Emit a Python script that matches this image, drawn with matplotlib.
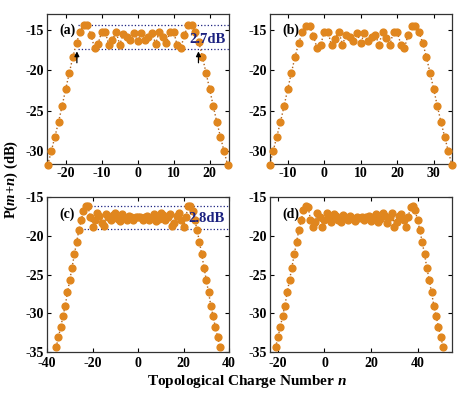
import numpy as np
import matplotlib as mpl
mpl.use('Agg')
import matplotlib.pyplot as plt

plt.rcParams['font.family'] = 'Liberation Serif'
plt.rcParams['font.weight'] = 'bold'
plt.rcParams['axes.unicode_minus'] = False
plt.rcParams['mathtext.fontset'] = 'custom'
plt.rcParams['mathtext.rm'] = 'Liberation Serif:bold'
plt.rcParams['mathtext.it'] = 'Liberation Serif:bold:italic'

# --- dados ---
n_a = list(range(-25, 26))
p_a = [-31.7, -30.0, -28.2, -26.4, -24.4, -22.3, -20.3, -18.3, -16.6, -15.2,
       -14.4, -14.4, -15.6, -17.2, -16.7, -15.2, -15.2, -16.9, -16.2, -15.2,
       -16.8, -15.5, -15.8, -16.2, -15.4, -16.4, -15.4, -16.2, -15.8, -15.4,
       -16.7, -15.2, -15.8, -16.6, -15.2, -15.2, -16.9, -17.2, -15.6, -14.4,
       -14.4, -15.2, -16.5, -18.3, -20.3, -22.3, -24.4, -26.4, -28.2, -30.0,
       -31.7]

n_b = list(range(-15, 36))
p_b = [-31.7, -30.0, -28.2, -26.4, -24.4, -22.3, -20.3, -18.3, -16.6, -15.3,
       -14.5, -14.5, -15.7, -17.2, -16.9, -15.2, -15.2, -16.9, -16.1, -15.2,
       -16.8, -15.6, -15.8, -16.4, -15.4, -16.6, -15.4, -16.4, -15.8, -15.6,
       -16.8, -15.2, -16.0, -16.8, -15.2, -15.2, -16.8, -17.2, -15.6, -14.5,
       -14.5, -15.3, -16.6, -18.3, -20.3, -22.3, -24.4, -26.4, -28.2, -30.0,
       -31.7]

n_c = list(range(-36, 37))
p_c = [-34.4, -33.1, -31.8, -30.4, -29.0, -27.3, -25.7, -24.1, -22.4, -20.8,
       -19.3, -18.0, -16.8, -16.1, -16.2, -17.6, -18.8, -18.0, -17.0, -17.4,
       -18.3, -18.7, -17.2, -17.6, -18.0, -17.3, -17.0, -17.8, -18.1, -17.2,
       -17.6, -18.0, -17.4, -17.6, -17.9, -17.5, -17.6, -17.5, -17.9, -17.6,
       -17.4, -18.0, -17.6, -17.2, -18.1, -17.8, -17.0, -17.3, -18.0, -17.6,
       -17.2, -18.7, -18.3, -17.4, -17.0, -18.0, -18.8, -17.6, -16.2, -16.1,
       -16.8, -18.0, -19.3, -20.8, -22.4, -24.1, -25.7, -27.3, -29.0, -30.4,
       -31.8, -33.1, -34.4]

n_d = list(range(-21, 52))
p_d = [-34.4, -33.1, -31.8, -30.4, -29.0, -27.3, -25.7, -24.1, -22.4, -20.8,
       -19.3, -18.0, -16.7, -16.2, -16.3, -17.9, -18.9, -18.2, -17.0, -17.5,
       -18.8, -17.9, -17.1, -17.8, -18.2, -17.2, -17.4, -17.9, -18.2, -17.3,
       -17.6, -18.0, -17.4, -17.7, -18.1, -17.5, -17.7, -17.6, -18.0, -17.5,
       -17.4, -18.1, -17.6, -17.2, -18.2, -17.8, -17.1, -17.4, -18.3, -17.6,
       -17.0, -18.8, -18.2, -17.4, -17.2, -17.9, -18.8, -17.5, -16.3, -16.2,
       -16.7, -18.0, -19.3, -20.8, -22.4, -24.1, -25.7, -27.3, -29.0, -30.4,
       -31.8, -33.1, -34.4]

# --- estilo ---
cor_ponto = '#e0861e'
cor_linha = '#b0621a'
cor_azul = '#1c2280'

fig = plt.figure(figsize=(4.74, 3.98), dpi=100)

posicoes = [
    [0.0992, 0.588, 0.384, 0.377],
    [0.5686, 0.588, 0.384, 0.377],
    [0.0992, 0.1156, 0.384, 0.389],
    [0.5686, 0.1156, 0.384, 0.389],
]
dados = [(n_a, p_a), (n_b, p_b), (n_c, p_c), (n_d, p_d)]
xlims = [(-25.2, 25.4), (-15, 34.9), (-40, 40), (-23.6, 54.6)]
ylims = [(-31.6, -13), (-31.6, -13), (-35, -15), (-35, -15)]
xticks = [[-20, -10, 0, 10, 20], [-10, 0, 10, 20, 30],
          [-40, -20, 0, 20, 40], [-20, 0, 20, 40]]
yticks = [[-30, -25, -20, -15], [-30, -25, -20, -15],
          [-35, -30, -25, -20, -15], [-35, -30, -25, -20, -15]]
rotulos = ['(a)', '(b)', '(c)', '(d)']

axes = []
for i in range(4):
    ax = fig.add_axes(posicoes[i])
    n, p = dados[i]
    ax.plot(n, p, linestyle=':', color=cor_linha, lw=1.0, zorder=2)
    ax.plot(n, p, 'o', color=cor_ponto, ms=4.9, mec=cor_ponto, zorder=3,
            clip_on=False)
    ax.set_xlim(*xlims[i])
    ax.set_ylim(*ylims[i])
    ax.set_xticks(xticks[i])
    ax.set_yticks(yticks[i])
    ax.tick_params(direction='in', top=True, right=True, length=3,
                   width=0.8, labelsize=10, pad=2)
    if i >= 2:
        ax.tick_params(axis='x', pad=3.5)
    for s in ax.spines.values():
        s.set_linewidth(0.9)
        s.set_color('#333333')
    ax.text(0.07, 0.89, rotulos[i], transform=ax.transAxes, fontsize=10,
            fontweight='bold', va='center', ha='left', zorder=4)
    axes.append(ax)

# linhas de referencia (a)
ax = axes[0]
ax.hlines([-14.4, -17.35], -16.5, 25.4, colors=cor_azul, linestyles=':',
          lw=0.9, zorder=1)
ax.text(19.5, -16.15, '2.7dB', color=cor_azul, fontsize=10.5,
        fontweight='bold', ha='center', va='center', zorder=5)
for xa in [-16.9, 16.9]:
    ax.annotate('', xy=(xa, -17.3), xytext=(xa, -19.4),
                arrowprops=dict(arrowstyle='-|>', color='black', lw=0.9,
                                mutation_scale=7), zorder=5)

# linhas de referencia (c)
ax = axes[2]
ax.hlines([-16.1, -19.05], -23.7, 40, colors=cor_azul, linestyles=':',
          lw=0.9, zorder=1)
ax.text(30, -17.7, '2.8dB', color=cor_azul, fontsize=10.5,
        fontweight='bold', ha='center', va='center', zorder=5)

fig.text(0.024, 0.548, 'P($m$+$n$) (dB)', rotation=90, fontsize=10.5,
         fontweight='bold', ha='center', va='center')
fig.text(0.521, 0.041, 'Topological Charge Number $n$', fontsize=11,
         fontweight='bold', ha='center', va='center')

fig.savefig('out.png', dpi=100)
